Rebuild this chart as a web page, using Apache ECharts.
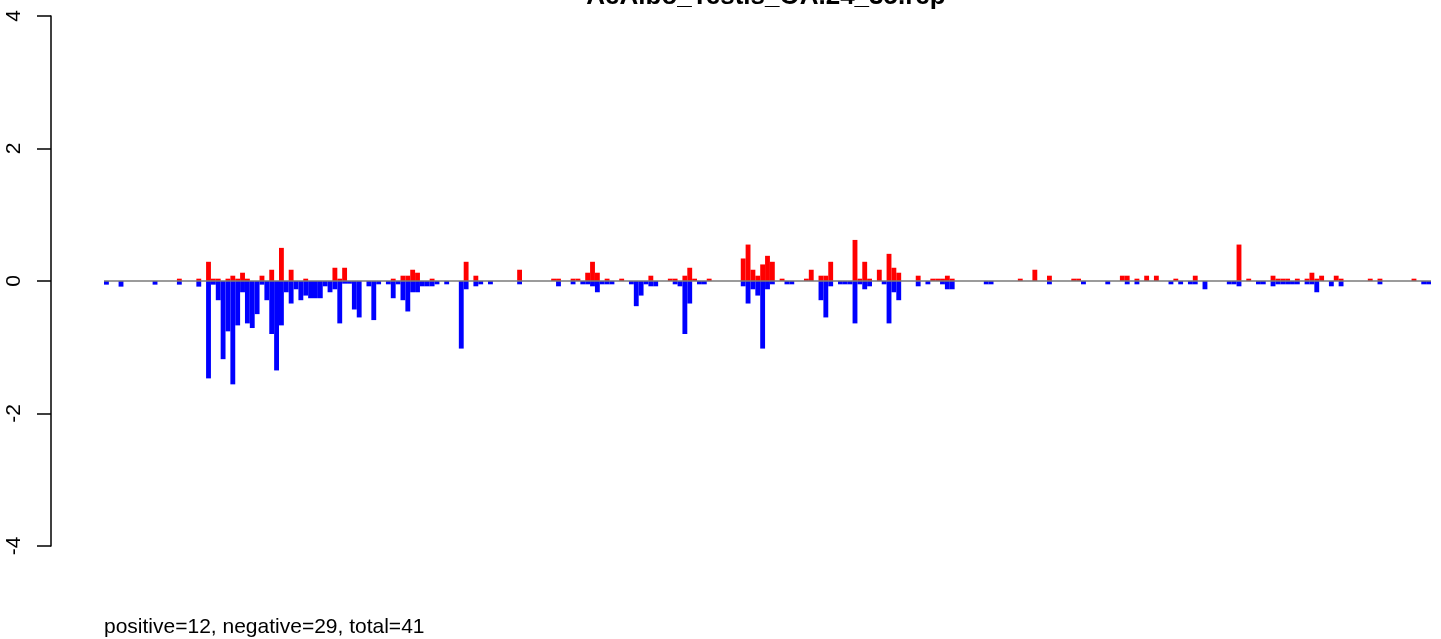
<!DOCTYPE html>
<html>
<head>
<meta charset="utf-8">
<script src="https://cdn.jsdelivr.net/npm/echarts@6/dist/echarts.min.js"></script>
<style>
html,body{margin:0;padding:0;background:#fff;}
#chart{width:1441px;height:639px;}
</style>
</head>
<body>
<div id="chart"></div>
<script>
// ---- data ----
const N_BINS = 273;
const titleText = "AeAlbo_Testis_OA.24_35.rep";
const footerText = "positive=12, negative=29, total=41";
const yTicks = [-4, -2, 0, 2, 4];

const binIdx = [0,3,10,15,19,21,22,23,24,25,26,27,28,29,30,31,32,33,34,35,36,37,38,39,40,41,42,43,44,45,46,47,48,49,50,51,52,54,55,56,58,59,60,61,62,63,64,65,66,67,68,70,73,74,76,77,79,85,92,93,96,97,98,99,100,101,102,103,104,106,108,109,110,111,112,113,116,117,118,119,120,121,122,123,124,131,132,133,134,135,136,137,139,140,141,144,145,147,148,149,151,152,153,154,155,156,157,159,160,161,162,163,167,169,170,171,172,173,174,181,182,188,191,194,199,200,201,206,209,210,212,214,216,219,220,221,223,224,226,231,232,233,235,237,238,240,241,242,243,244,245,247,248,249,250,252,253,254,260,262,269,271,272];

const posVal = [0,0,0,0.035,0.035,0.29,0.035,0.035,0,0.035,0.08,0.035,0.125,0.035,0,0,0.08,0,0.17,0,0.50,0,0.17,0,0,0.035,0,0,0,0,0,0.20,0.035,0.20,0,0,0,0,0,0,0,0.035,0,0.08,0.08,0.17,0.125,0,0,0.035,0,0,0,0.29,0.08,0,0,0.17,0.035,0.035,0.035,0.035,0,0.125,0.29,0.125,0,0.035,0,0.035,0,0,0,0,0.08,0,0.035,0.035,0,0.08,0.20,0.035,0,0,0.035,0.34,0.55,0.17,0.08,0.25,0.38,0.29,0.035,0,0,0.035,0.17,0.08,0.08,0.29,0,0,0,0.62,0.035,0.29,0.035,0.17,0,0.41,0.20,0.125,0.08,0,0.035,0.035,0.035,0.08,0.035,0,0,0.035,0.17,0.08,0.035,0.035,0,0,0.08,0.08,0.035,0.08,0.08,0,0.035,0,0,0.08,0,0,0,0.55,0.035,0,0,0.08,0.035,0.035,0.035,0,0.035,0.035,0.125,0.035,0.08,0,0.08,0.035,0.035,0.035,0.035,0,0];

const negVal = [-0.055,-0.085,-0.055,-0.055,-0.085,-1.47,-0.055,-0.29,-1.18,-0.76,-1.56,-0.67,-0.17,-0.64,-0.71,-0.50,-0.055,-0.29,-0.80,-1.35,-0.67,-0.17,-0.34,-0.125,-0.29,-0.22,-0.26,-0.26,-0.26,-0.08,-0.17,-0.125,-0.64,-0.04,-0.04,-0.43,-0.55,-0.08,-0.59,-0.05,-0.05,-0.26,-0.05,-0.29,-0.46,-0.17,-0.17,-0.08,-0.08,-0.08,-0.05,-0.05,-1.02,-0.125,-0.08,-0.05,-0.05,-0.05,0,-0.08,-0.05,0,-0.05,-0.05,-0.08,-0.17,-0.05,-0.05,-0.05,0,-0.05,-0.38,-0.22,-0.05,-0.08,-0.08,0,-0.05,-0.08,-0.80,-0.34,0,-0.05,-0.05,0,-0.08,-0.34,-0.125,-0.22,-1.02,-0.125,-0.05,0,-0.05,-0.05,0,0,-0.29,-0.55,-0.08,-0.05,-0.05,-0.05,-0.64,-0.05,-0.125,-0.08,0,-0.05,-0.64,-0.17,-0.29,-0.08,-0.05,0,0,-0.05,-0.125,-0.125,-0.05,-0.05,0,0,-0.05,0,0,-0.05,-0.05,0,-0.05,-0.05,0,0,-0.05,0,-0.05,-0.05,-0.05,-0.125,-0.05,-0.05,-0.08,0,-0.05,-0.05,-0.08,-0.05,-0.05,-0.05,-0.05,-0.05,-0.05,-0.05,-0.17,0,-0.08,0,-0.08,0,-0.05,0,-0.05,-0.05];

// ---- build library inputs ----
const categories = Array.from({length: N_BINS}, (_, i) => String(i + 1));
const posData = new Array(N_BINS).fill(null);
const negData = new Array(N_BINS).fill(null);
binIdx.forEach((b, i) => {
  if (posVal[i]) posData[b] = posVal[i];
  if (negVal[i]) negData[b] = negVal[i];
});

const FONT = "'Liberation Sans', Arial, Helvetica, sans-serif";
const chart = echarts.init(document.getElementById('chart'), null, {renderer: 'canvas'});
chart.setOption({
  animation: false,
  backgroundColor: '#ffffff',
  grid: {left: 104, right: 10, top: 16, bottom: 93, containLabel: false},
  xAxis: {
    type: 'category', data: categories, show: false, boundaryGap: true
  },
  yAxis: {
    type: 'value', min: yTicks[0], max: yTicks[yTicks.length - 1], interval: 2,
    offset: 53,
    axisLine: {show: true, lineStyle: {color: '#000', width: 1.5}},
    axisTick: {show: true, length: 14, lineStyle: {color: '#000', width: 1.5}},
    axisLabel: {
      rotate: 90, margin: 26, fontSize: 21, color: '#000', fontFamily: FONT,
      formatter: v => String(v)
    },
    splitLine: {show: false}
  },
  series: [
    {
      name: 'positive', type: 'bar', data: posData,
      itemStyle: {color: '#ff0000'},
      barGap: '-100%', barCategoryGap: '0%', silent: true
    },
    {
      name: 'negative', type: 'bar', data: negData,
      itemStyle: {color: '#0000ff'},
      barGap: '-100%', barCategoryGap: '0%', silent: true,
      markLine: {
        silent: true, symbol: 'none', label: {show: false},
        lineStyle: {color: '#7a7a7a', width: 1.5, type: 'solid'},
        data: [{yAxis: 0}], z: 10
      }
    }
  ],
  graphic: [
    {
      type: 'text', x: 766, y: -3,
      style: {text: titleText, font: "bold 26px " + FONT, fill: '#000', textAlign: 'center', textVerticalAlign: 'middle'}
    },
    {
      type: 'text', x: 104, y: 627,
      style: {text: footerText, font: "21px " + FONT, fill: '#000', textAlign: 'left', textVerticalAlign: 'middle'}
    }
  ]
});
</script>
</body>
</html>
